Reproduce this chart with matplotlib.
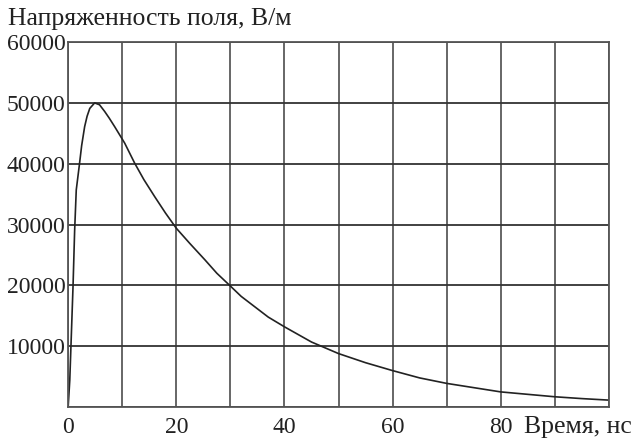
import numpy as np
import matplotlib.pyplot as plt

# field strength vs time
time_ns = [0, 0.3, 0.9, 1.2, 1.5, 2.1, 2.5, 3.05, 3.5, 4.0, 4.9, 5.8, 6.75, 7.6, 8.6,
           10.45, 12.3, 14, 16, 18, 20, 22.5, 25.3, 27.5, 30, 32, 34.5, 37, 40, 45,
           50, 55, 60, 65, 70, 75, 80, 85, 90, 95, 100]
field = [0, 4400, 19800, 29000, 35700, 40000, 43000, 46100, 47800, 49100, 50000,
         49700, 48600, 47500, 46100, 43400, 40100, 37400, 34600, 31900, 29400,
         26900, 24200, 22000, 19900, 18200, 16500, 14800, 13200, 10700, 8800, 7300,
         6000, 4800, 3900, 3200, 2500, 2100, 1700, 1400, 1150]

x_ticks = [0, 20, 40, 60, 80]
y_ticks = [10000, 20000, 30000, 40000, 50000, 60000]

plt.rcParams['font.family'] = ['Liberation Serif', 'DejaVu Serif']

fig = plt.figure(figsize=(6.31, 4.43), dpi=100)
ax = fig.add_axes([0.108, 0.081, 0.857, 0.824])

ax.plot(time_ns, field, color='#222222', lw=1.2)

ax.set_xlim(0, 100)
ax.set_ylim(0, 60000)
ax.set_xticks(np.arange(0, 101, 10))
ax.set_xticklabels([str(v) if v in x_ticks else '' for v in range(0, 101, 10)])
ax.set_yticks([0] + y_ticks)
ax.set_yticklabels([''] + [str(v) for v in y_ticks])
ax.tick_params(length=0, labelsize=17, colors='#222222')
ax.tick_params(axis='x', pad=7)
ax.tick_params(axis='y', pad=2)
ax.grid(True, axis='y', color='#333333', lw=1.3)
ax.grid(True, axis='x', color='#5a5a5a', lw=1.3)
for s in ax.spines.values():
    s.set_color('#555555')
    s.set_linewidth(1.3)

fig.text(0.013, 0.958, 'Напряженность поля, В/м', fontsize=18.5, va='center', color='#222222')
fig.text(0.83, 0.036, 'Время, нс', fontsize=18.5, va='center', color='#222222')

fig.savefig('out.png', dpi=100)
